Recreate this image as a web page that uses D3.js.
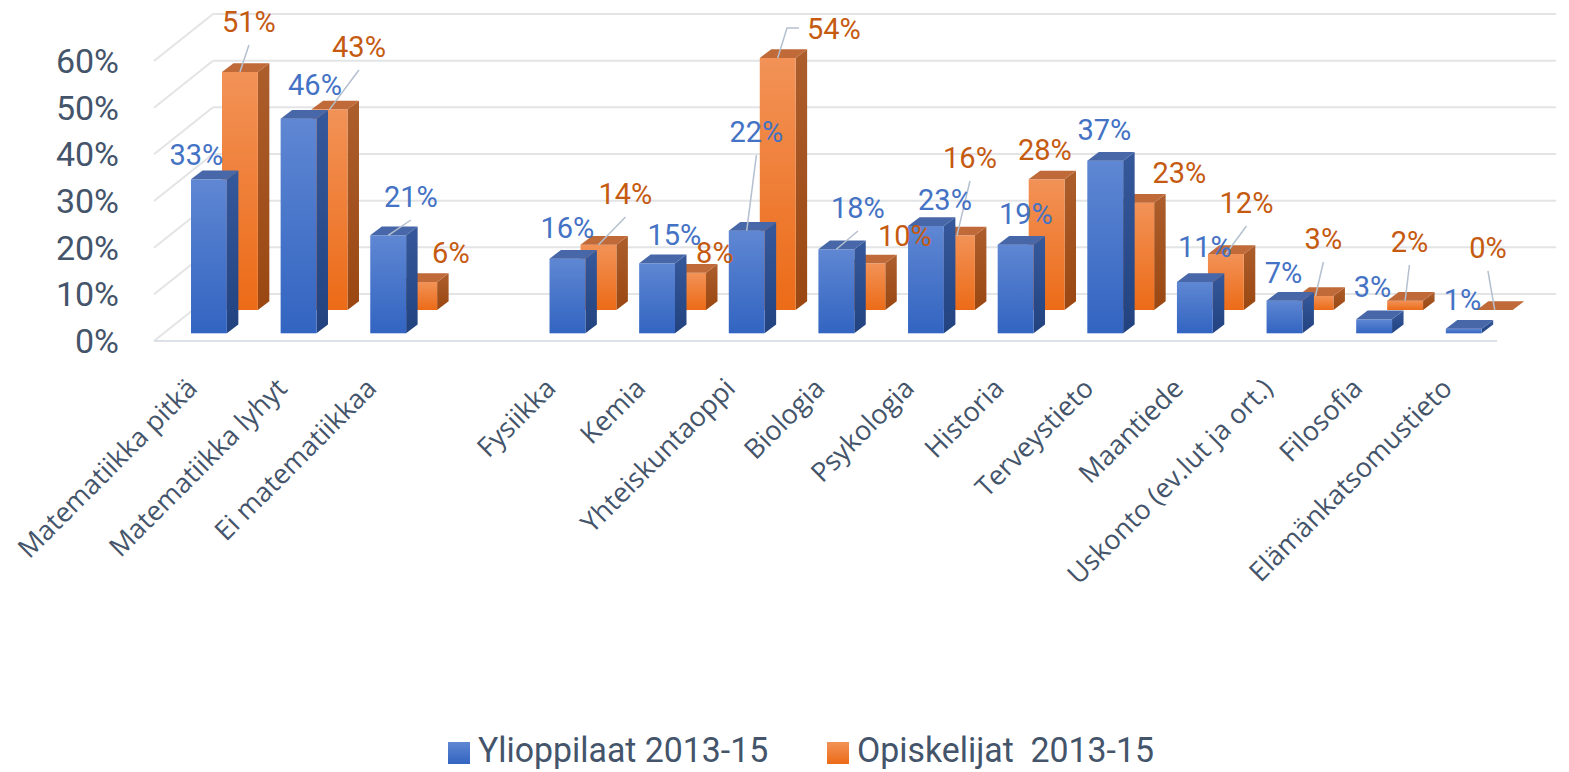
<!DOCTYPE html>
<html>
<head>
<meta charset="utf-8">
<script src="https://cdn.jsdelivr.net/npm/d3@7"></script>
<style>
  html, body { margin: 0; padding: 0; background: #ffffff; }
  svg { display: block; }
</style>
</head>
<body>
<svg id="chart" width="1569" height="772"></svg>
<script>
// ---------------- DATA ----------------
const categories = ["Matematiikka pitkä", "Matematiikka lyhyt", "Ei matematiikkaa", "",
  "Fysiikka", "Kemia", "Yhteiskuntaoppi", "Biologia", "Psykologia", "Historia",
  "Terveystieto", "Maantiede", "Uskonto (ev.lut ja ort.)", "Filosofia", "Elämänkatsomustieto"];
const ylioppilaat = [0.33, 0.46, 0.21, null, 0.16, 0.15, 0.22, 0.18, 0.23, 0.19, 0.37, 0.11, 0.07, 0.03, 0.01];
const opiskelijat = [0.51, 0.43, 0.06, null, 0.14, 0.08, 0.54, 0.10, 0.16, 0.28, 0.23, 0.12, 0.03, 0.02, 0.00];
const seriesNames = ["Ylioppilaat 2013-15", "Opiskelijat  2013-15"];
const yTicks = [0, 0.1, 0.2, 0.3, 0.4, 0.5, 0.6];

// ------------- LAYOUT (label nudges, leader modes) -------------
const blueNudge = [[-12.5,-24],[16.4,-33.6],[22.7,-38.3],null,[0,-30.6],[17.3,-28.3],[9.7,-98.6],[21.6,-41.3],[19,-26],[10.3,-30.6],[-0.8,-30.7],[10,-35],[-1,-27.6],[-1.7,-32.3],[-1.3,-28.6]];
const orangeNudge = [[9,-50],[29.4,-62.3],[31.7,-29],null,[27,-50.7],[26.8,-19.7],[56.2,-29],[37.6,-27.3],[13,-77.3],[-1.7,-29.3],[43.2,-29.7],[20.6,-51],[7.9,-57],[4.3,-58.7],[-6.8,-62]];
const blueLeader = [null,null,"b",null,null,null,"b","b",null,null,null,null,null,null,null];
const orangeLeader = ["b","b",null,null,"b",null,"l",null,"b",null,null,"b","b","b","b"];

// ------------- GEOMETRY -------------
const svg = d3.select("#chart");
const floorFrontY = 341, wallDX = 59, wallDY = 47;
const plotLeft = 154, backRight = 1556;
const barDX = 11.5, barDY = 8.7;

const h = d3.scaleLinear().domain([0, 0.6]).range([0, 280]);
const step = 89.63;
const x = d3.scaleBand().domain(d3.range(categories.length))
  .range([191 - step * 0.6, 191 - step * 0.6 + step * (categories.length + 0.6)])
  .paddingInner(0.6).paddingOuter(0.6);

const txtColor = "#44546A";

// gradients
const defs = svg.append("defs");
function grad(id, c0, c1) {
  const g = defs.append("linearGradient").attr("id", id)
    .attr("x1", 0).attr("y1", 0).attr("x2", 0).attr("y2", 1);
  g.append("stop").attr("offset", "0%").attr("stop-color", c0);
  g.append("stop").attr("offset", "100%").attr("stop-color", c1);
}
grad("bFront", "#5F87D3", "#3264C1");
grad("bSide", "#36599C", "#22427F");
grad("oFront", "#F29257", "#EC6B17");
grad("oSide", "#AC5E2C", "#9A4712");

// ------------- WALLS / GRID -------------
const grid = svg.append("g");
yTicks.forEach(t => {
  const fy = floorFrontY - h(t), by = fy - wallDY;
  grid.append("line").attr("x1", plotLeft + wallDX).attr("x2", backRight)
    .attr("y1", by).attr("y2", by).attr("stroke", "#E3E4E6").attr("stroke-width", 2);
  grid.append("line").attr("x1", plotLeft).attr("y1", fy).attr("x2", plotLeft + wallDX).attr("y2", by)
    .attr("stroke", "#E3E4E6").attr("stroke-width", 2);
});
grid.append("line").attr("x1", plotLeft).attr("x2", backRight - wallDX)
  .attr("y1", floorFrontY).attr("y2", floorFrontY).attr("stroke", "#DCE1E8").attr("stroke-width", 2);

// y tick labels
svg.append("g").selectAll("text").data(yTicks).join("text")
  .attr("x", 119).attr("y", d => floorFrontY - h(d)).attr("dy", "0.35em")
  .attr("text-anchor", "end").attr("font-family", "Roboto").attr("font-size", 34)
  .attr("fill", txtColor).text(d3.format(".0%"));

// ------------- BARS -------------
const rows = [
  { values: opiskelijat, base: 310, xOff: 31, front: "url(#oFront)", side: "url(#oSide)", top: "#C06A3A",
    color: "#C55A11", nudge: orangeNudge, leader: orangeLeader },
  { values: ylioppilaat, base: 333.3, xOff: 0, front: "url(#bFront)", side: "url(#bSide)", top: "#4767A8",
    color: "#4472C4", nudge: blueNudge, leader: blueLeader }
];

const barLayer = svg.append("g");
rows.forEach(r => {
  r.values.forEach((v, i) => {
    if (v === null) return;
    const x0 = x(i) + r.xOff, w = x.bandwidth(), top = r.base - h(v), base = r.base;
    const g = barLayer.append("g");
    if (v > 0) {
      g.append("polygon").attr("points", [[x0 + w, top], [x0 + w + barDX, top - barDY], [x0 + w + barDX, base - barDY], [x0 + w, base]].join(" "))
        .attr("fill", r.side);
      g.append("rect").attr("x", x0).attr("y", top).attr("width", w).attr("height", base - top).attr("fill", r.front);
    }
    g.append("polygon").attr("points", [[x0, top], [x0 + barDX, top - barDY], [x0 + w + barDX, top - barDY], [x0 + w, top]].join(" "))
      .attr("fill", r.top);
  });
});

// ------------- DATA LABELS + LEADERS -------------
const leaderLayer = svg.append("g");
const labelLayer = svg.append("g");
rows.forEach(r => {
  r.values.forEach((v, i) => {
    if (v === null) return;
    const w = x.bandwidth();
    const cx = x(i) + r.xOff + w / 2, top = r.base - h(v);
    const lx = cx + r.nudge[i][0], ly = top + r.nudge[i][1];
    const t = labelLayer.append("text").attr("x", lx).attr("y", ly).attr("dy", "0.35em")
      .attr("text-anchor", "middle").attr("font-family", "Roboto").attr("font-size", 29)
      .attr("fill", r.color).text(d3.format(".0%")(v));
    const mode = r.leader[i];
    if (mode === "b") {
      leaderLayer.append("line").attr("x1", lx).attr("y1", ly + 23).attr("x2", cx).attr("y2", top)
        .attr("stroke", "#B4C0CF").attr("stroke-width", 1.5);
    } else if (mode === "l") {
      const hw = t.node().getComputedTextLength() / 2;
      leaderLayer.append("polyline").attr("points", [[lx - hw - 8, ly - 1], [lx - hw - 20, ly - 1], [cx, top]].join(" "))
        .attr("fill", "none").attr("stroke", "#B4C0CF").attr("stroke-width", 1.5);
    }
  });
});

// ------------- CATEGORY LABELS -------------
svg.append("g").selectAll("text").data(categories.map((c, i) => ({ c, i })).filter(d => d.c !== ""))
  .join("text")
  .attr("transform", d => `translate(${x(d.i) + x.bandwidth() / 2 - 10},390) rotate(-45)`)
  .attr("text-anchor", "end").attr("font-family", "Open Sans").attr("font-size", 27)
  .attr("fill", txtColor).text(d => d.c);

// ------------- LEGEND -------------
const legend = svg.append("g");
const legendItems = [
  { name: seriesNames[0], fill: "url(#bFront)", sx: 448, tx: 478 },
  { name: seriesNames[1], fill: "url(#oFront)", sx: 827, tx: 857 }
];
legendItems.forEach(d => {
  legend.append("rect").attr("x", d.sx).attr("y", 742).attr("width", 22).attr("height", 22).attr("fill", d.fill);
  legend.append("text").attr("transform", `translate(${d.tx},762) scale(0.94,1)`)
    .attr("font-family", "Roboto").attr("font-size", 36)
    .attr("fill", txtColor).style("white-space", "pre").text(d.name);
});
</script>
</body>
</html>
